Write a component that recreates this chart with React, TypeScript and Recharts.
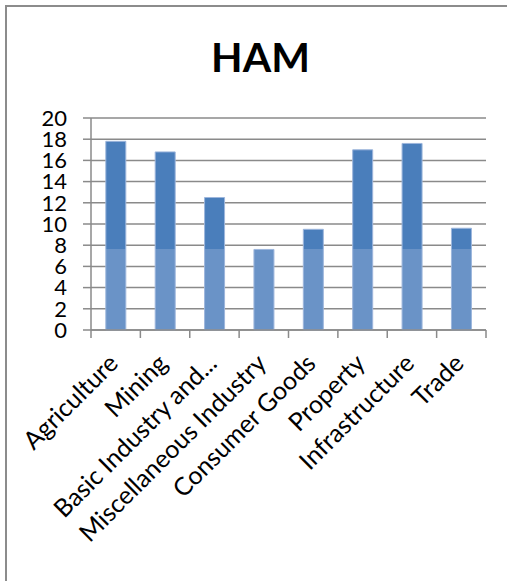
import { BarChart, Bar, XAxis, YAxis, CartesianGrid } from "recharts";

const categories = [
  "Agriculture",
  "Mining",
  "Basic Industry and...",
  "Miscellaneous Industry",
  "Consumer Goods",
  "Property",
  "Infrastructure",
  "Trade",
];
const hamValues = [17.8, 16.8, 12.5, 7.6, 9.5, 17.0, 17.6, 9.6];
const yTicks = [0, 2, 4, 6, 8, 10, 12, 14, 16, 18, 20];

const data = categories.map((name, i) => ({ name, ham: hamValues[i] }));

const GRID = "#8a8a8a";
const FONT = "Lato, 'Open Sans', sans-serif";

function CategoryTick(props: any) {
  const { x, y, payload, index } = props;
  const half = payload?.offset ?? 24.7;
  const last = index === categories.length - 1 || payload.value === categories[categories.length - 1];
  const tx = x + 4;
  const ty = y + 27;
  return (
    <g>
      <line x1={x - half} x2={x - half} y1={y - 8} y2={y} stroke={GRID} strokeWidth={1.5} />
      {last && <line x1={x + half} x2={x + half} y1={y - 8} y2={y} stroke={GRID} strokeWidth={1.5} />}
      <text
        x={tx}
        y={ty}
        textAnchor="end"
        transform={`rotate(-45 ${tx} ${ty})`}
        fontFamily={FONT}
        fontSize={25}
        fill="#000"
      >
        {payload.value}
      </text>
    </g>
  );
}

export default function App() {
  return (
    <div
      style={{
        position: "absolute",
        left: 0,
        top: 0,
        width: 507,
        height: 581,
        overflow: "hidden",
        background: "#fff",
      }}
    >
      <div
        style={{
          position: "absolute",
          left: 5,
          top: 5,
          width: 520,
          height: 600,
          borderTop: "2px solid #8c8c8c",
          borderLeft: "2px solid #8c8c8c",
        }}
      />
      <div style={{ position: "absolute", left: 0, top: 0 }}>
        <BarChart
          width={507}
          height={581}
          data={data}
          margin={{ top: 118, right: 21, left: 0, bottom: 11 }}
          barCategoryGap="30%"
        >
          <defs>
            <linearGradient id="hamFill" gradientUnits="userSpaceOnUse" x1="0" y1="0" x2="0" y2="581">
              <stop offset="0.4286" stopColor="#4a7ebb" />
              <stop offset="0.4286" stopColor="#6a93c7" />
            </linearGradient>
          </defs>
          <CartesianGrid vertical={false} stroke={GRID} strokeWidth={1.5} />
          <XAxis
            dataKey="name"
            interval={0}
            height={240}
            tickSize={8}
            tickMargin={0}
            tickLine={false}
            axisLine={{ stroke: GRID, strokeWidth: 1.5 }}
            tick={<CategoryTick />}
          />
          <YAxis
            width={91}
            domain={[0, 20]}
            ticks={yTicks}
            interval={0}
            tickSize={8}
            tickMargin={16}
            axisLine={{ stroke: GRID, strokeWidth: 1.5 }}
            tickLine={{ stroke: GRID, strokeWidth: 1.5 }}
            tick={{ fill: "#000", fontSize: 22, fontFamily: FONT }}
          />
          <Bar
            dataKey="ham"
            fill="url(#hamFill)"
            stroke="#9db6dc"
            strokeWidth={1}
            isAnimationActive={false}
          />
        </BarChart>
      </div>
      <svg
        width={507}
        height={120}
        style={{ position: "absolute", left: 0, top: 0, pointerEvents: "none" }}
      >
        <text x={260.5} y={72} textAnchor="middle" fontFamily={FONT} fontWeight={700} fontSize={41} fill="#000">
          HAM
        </text>
      </svg>
    </div>
  );
}
